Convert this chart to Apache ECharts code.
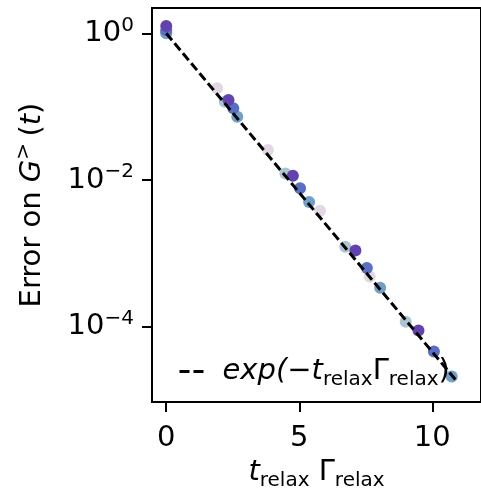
<!DOCTYPE html>
<html>
<head>
<meta charset="utf-8">
<script src="https://cdn.jsdelivr.net/npm/echarts@6/dist/echarts.min.js"></script>
<style>
  html, body { margin: 0; padding: 0; background: #fff; }
  #chart { width: 481px; height: 497px; }
</style>
</head>
<body>
<div id="chart"></div>
<script>
const FONT = '"DejaVu Sans", sans-serif';

// t_relax * Gamma_relax and the error on G>(t), one pair of arrays per run
const lavenderX = [0, 1.91, 3.82, 5.78, 7.65];
const lavenderY = [1.0, 0.178, 0.0256, 0.0038, 4.8e-4];
const greyBlueX = [0, 2.20, 4.48, 6.73, 9.00];
const greyBlueY = [1.04, 0.117, 0.0123, 1.23e-3, 1.17e-4];
const steelX = [0, 2.67, 5.37, 8.04, 10.73];
const steelY = [1.0, 0.073, 5.0e-3, 3.4e-4, 2.1e-5];
const blueX = [0, 2.52, 5.03, 7.54, 10.06];
const blueY = [1.1, 0.095, 7.7e-3, 6.3e-4, 4.6e-5];
const purpleX = [0, 2.34, 4.76, 7.11, 9.48];
const purpleY = [1.26, 0.123, 0.0114, 1.09e-3, 8.9e-5];

// end points of the exp(-t Gamma) reference line
const fitX = [0, 10.95];
const fitY = [1, 1.75e-5];

const xTicks = [0, 5, 10];
const yTicks = [1, 1e-2, 1e-4];

const runColors = ['#e1d8e3', '#aac6d0', '#6fa0c8', '#5a6ec4', '#6243ae'];
const runs = [
  [lavenderX, lavenderY],
  [greyBlueX, greyBlueY],
  [steelX, steelY],
  [blueX, blueY],
  [purpleX, purpleY]
];

const zip = (xs, ys) => xs.map((x, i) => [x, ys[i]]);

const MAIN = 29, SMALL = 20;
const makeRich = () => ({
  r: { fontFamily: FONT, fontSize: MAIN, lineHeight: 36, color: '#000' },
  i: { fontFamily: FONT, fontSize: MAIN, lineHeight: 36, fontStyle: 'italic', color: '#000' },
  sub: { fontFamily: FONT, fontSize: SMALL, lineHeight: 18, verticalAlign: 'bottom', color: '#000' },
  sup: { fontFamily: FONT, fontSize: SMALL, lineHeight: 26, verticalAlign: 'top', color: '#000' }
});

const expLabel = v => {
  const e = Math.round(Math.log10(v));
  return '{r|10}{sup|' + (e < 0 ? '\u2212' + (-e) : String(e)) + '}';
};

const scatterSeries = runs.map((r, k) => ({
  type: 'scatter',
  name: 'run' + k,
  data: zip(r[0], r[1]),
  symbolSize: 12,
  itemStyle: { color: runColors[k], opacity: 1 },
  emphasis: { disabled: true },
  z: 2
}));

const chart = echarts.init(document.getElementById('chart'), null, { renderer: 'canvas' });
chart.setOption({
  animation: false,
  backgroundColor: '#fff',
  grid: {
    left: 152, top: 8, width: 340, height: 394,
    show: true, borderColor: '#000', borderWidth: 2, containLabel: false
  },
  legend: {
    data: ['exp'],
    left: 173, top: 352,
    itemWidth: 25, itemHeight: 14,
    lineStyle: { width: 3, type: [10, 4], color: '#000' },
    itemStyle: { color: 'rgba(0,0,0,0)', borderColor: 'rgba(0,0,0,0)', borderWidth: 0 },
    formatter: () => '{i|exp(\u2212t}{sub|relax}{r|\u0393}{sub|relax}{r|)}',
    textStyle: { fontFamily: FONT, fontSize: MAIN, rich: makeRich(), padding: [0, 0, 0, 13] },
    selectedMode: false
  },
  xAxis: {
    type: 'value',
    min: -0.535, max: 11.83,
    axisLine: { show: true, onZero: false, lineStyle: { color: '#000', width: 2 } },
    axisTick: { show: true, length: 10, lineStyle: { color: '#000', width: 2 }, customValues: xTicks },
    axisLabel: { customValues: xTicks, margin: 22, fontFamily: FONT, fontSize: MAIN, color: '#000' },
    splitLine: { show: false },
    name: '{i|t}{sub|relax}{r| \u0393}{sub|relax}',
    nameLocation: 'middle', nameGap: 48,
    nameTextStyle: { fontFamily: FONT, fontSize: MAIN, rich: makeRich() }
  },
  yAxis: {
    type: 'log', logBase: 10,
    min: 9.4e-6, max: 2.213,
    axisLine: { show: true, onZero: false, lineStyle: { color: '#000', width: 2 } },
    axisTick: { show: true, length: 10, lineStyle: { color: '#000', width: 2 }, customValues: yTicks },
    axisLabel: {
      customValues: yTicks, margin: 18, formatter: expLabel,
      fontFamily: FONT, fontSize: MAIN, color: '#000', rich: makeRich()
    },
    minorTick: { show: false },
    splitLine: { show: false },
    name: '{r|Error on }{i|G}{sup|> }{r|(}{i|t}{r|)}',
    nameLocation: 'middle', nameGap: 102,
    nameTextStyle: { fontFamily: FONT, fontSize: MAIN, rich: makeRich() }
  },
  series: scatterSeries.concat([{
    type: 'line',
    name: 'exp',
    data: zip(fitX, fitY),
    symbol: 'none',
    itemStyle: { color: '#000' },
    lineStyle: { color: '#000', width: 3, type: [9, 4] },
    emphasis: { disabled: true },
    z: 3
  }])
});
</script>
</body>
</html>
